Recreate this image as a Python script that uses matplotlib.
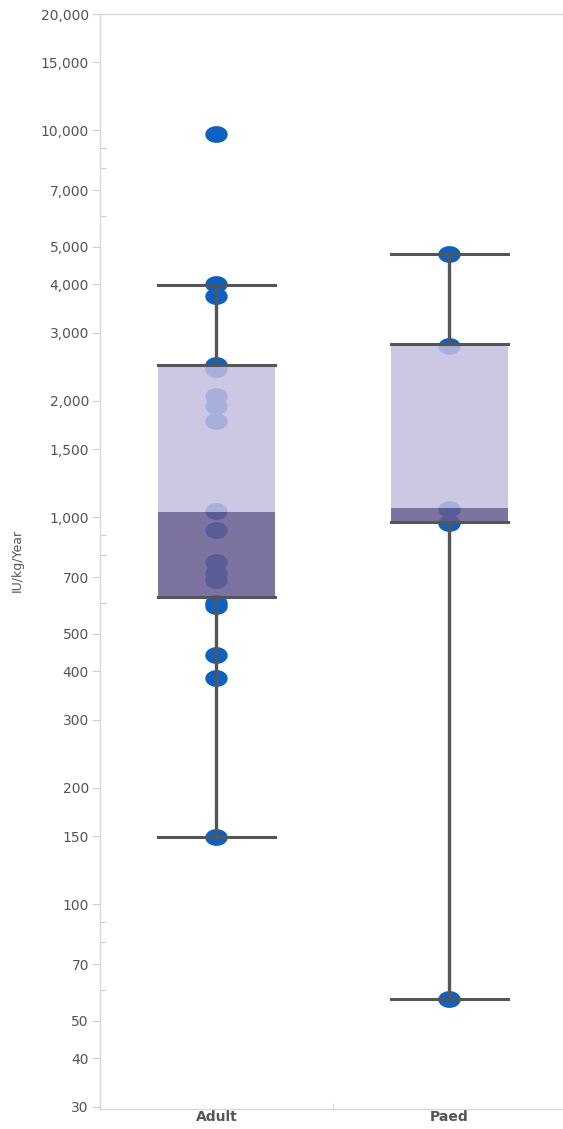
import matplotlib
matplotlib.use("Agg")
import matplotlib.pyplot as plt
import numpy as np
from matplotlib.path import Path
from matplotlib.ticker import FixedLocator, NullFormatter

categories = ["Adult", "Paed"]
adult_points = [9800, 4000, 3740, 2480, 2420, 2060, 1940, 1780, 1040, 930,
                765, 720, 690, 600, 590, 441, 384, 149]
paed_points = [4790, 2780, 1050, 970, 57]
points = [adult_points, paed_points]

# box stats: lower whisker, Q1, median, Q3, upper whisker
lower_whisker = [149, 57]
q1 = [624, 976]
median = [1036, 1055]
q3 = [2480, 2810]
upper_whisker = [3980, 4790]

major_ticks = [30, 40, 50, 70, 100, 150, 200, 300, 400, 500, 700, 1000, 1500,
               2000, 3000, 4000, 5000, 7000, 10000, 15000, 20000]
minor_ticks = [60, 80, 90, 600, 800, 900, 6000, 8000, 9000]

W, H = 563, 1129
fig = plt.figure(figsize=(W / 100, H / 100), dpi=100)
ax = fig.add_axes([100 / W, 1 - 1109 / H, 466 / W, (1109 - 14) / H])
ax.set_yscale("log")
ax.set_ylim(29.6, 20000)
ax.set_xlim(0, 2)

t = np.linspace(0, 2 * np.pi, 60)
ellipse = Path(np.column_stack([np.cos(t), 0.75 * np.sin(t)]))

dot_color = "#0B62C4"
light_box = (196 / 255, 191 / 255, 223 / 255)
dark_box = (102 / 255, 91 / 255, 144 / 255)
line_color = "#555555"
bw = 0.5
box_alpha = 0.85

for i, cat in enumerate(categories):
    xc = i + 0.5
    ax.scatter([xc] * len(points[i]), points[i], s=260, marker=ellipse,
               color=dot_color, linewidths=0, zorder=2)
    # box: lower (Q1-median) dark, upper (median-Q3) light
    ax.fill_between([xc - bw / 2, xc + bw / 2], q1[i], median[i],
                    color=dark_box, alpha=box_alpha, linewidth=0, zorder=3)
    ax.fill_between([xc - bw / 2, xc + bw / 2], median[i], q3[i],
                    color=light_box, alpha=box_alpha, linewidth=0, zorder=3)
    # whiskers
    ax.plot([xc, xc], [q3[i], upper_whisker[i]], color=line_color, lw=2.4, zorder=4,
            solid_capstyle="butt")
    ax.plot([xc, xc], [lower_whisker[i], q1[i]], color=line_color, lw=2.4, zorder=4,
            solid_capstyle="butt")
    for v in [lower_whisker[i], q1[i], q3[i], upper_whisker[i]]:
        ax.plot([xc - bw / 2, xc + bw / 2], [v, v], color=line_color, lw=2.2, zorder=4)

ax.yaxis.set_major_locator(FixedLocator(major_ticks))
ax.set_yticklabels([f"{v:,}" for v in major_ticks])
ax.yaxis.set_minor_locator(FixedLocator(minor_ticks))
ax.yaxis.set_minor_formatter(NullFormatter())
ax.tick_params(axis="y", which="major", length=6, color="#d0d0d0", labelsize=10,
               labelcolor="#555555", pad=2, direction="out", width=0.8)
ax.tick_params(axis="y", which="minor", length=4, color="#d0d0d0", direction="in",
               width=0.8)

ax.set_xticks([0.5, 1.5])
ax.set_xticklabels(categories, fontweight="bold", fontsize=10, color="#555555")
ax.tick_params(axis="x", which="major", length=0, pad=1)
ax.set_xticks([1.0], minor=True)
ax.tick_params(axis="x", which="minor", length=4, color="#d0d0d0", direction="in")

for side in ["left", "bottom", "top"]:
    ax.spines[side].set_color("#d8d8d8")
    ax.spines[side].set_linewidth(1)
ax.spines["right"].set_visible(False)

fig.text(17 / W, 1 - 560 / H, "IU/kg/Year", rotation=90, fontsize=9,
         color="#555555", ha="center", va="center")

fig.savefig("out.png", dpi=100)
